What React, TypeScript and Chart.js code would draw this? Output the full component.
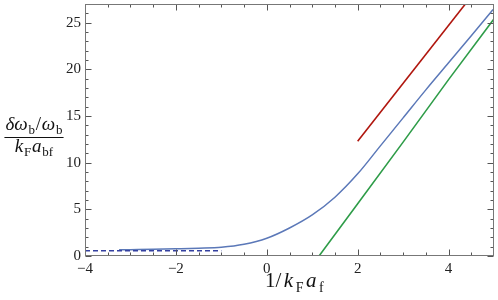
import React, { useEffect, useRef } from "react";
import { Chart, registerables } from "chart.js";

Chart.register(...registerables);

// ---- data ----
const blueX = [-3.25, -3, -2.5, -2, -1.5, -1, -0.5, 0, 0.5, 1, 1.5, 2, 2.5, 3, 3.5, 4, 4.5, 4.98];
const blueY = [0.66, 0.68, 0.72, 0.77, 0.83, 0.93, 1.25, 1.9, 3.0, 4.4, 6.3, 8.8, 11.8, 14.8, 17.8, 20.7, 23.6, 26.4];
const dashX = [-4, -1];
const dashY = [0.57, 0.57];
const redX = [2, 4.37];
const redY = [12.3, 27];
const greenX = [1.15, 2, 3, 4, 5.03];
const greenY = [0, 5.6, 12.2, 18.9, 25.6];

const xTickLabels = [-4, -2, 0, 2, 4];
const yTickLabels = [0, 5, 10, 15, 20, 25];
const xMinor = [-3.5, -3, -2.5, -1.5, -1, -0.5, 0.5, 1, 1.5, 2.5, 3, 3.5, 4.5];
const yMinor = [1, 2, 3, 4, 6, 7, 8, 9, 11, 12, 13, 14, 16, 17, 18, 19, 21, 22, 23, 24, 26];

const X_MIN = -4, X_MAX = 5, Y_MIN = 0, Y_MAX = 27;

const pts = (xs: number[], ys: number[]) => xs.map((x, i) => ({ x, y: ys[i] }));

const SERIF = '"Liberation Serif", "Times New Roman", serif';

type Part = { t: string; it?: boolean; sub?: boolean };

function drawParts(
  ctx: CanvasRenderingContext2D,
  parts: Part[],
  x: number,
  y: number,
  size: number,
  align: "left" | "center",
  gap: number
) {
  const subSize = Math.round(size * 0.68);
  const fontOf = (p: Part) => `${p.it ? "italic " : ""}${p.sub ? subSize : size}px ${SERIF}`;
  let total = 0;
  const widths = parts.map((p) => {
    ctx.font = fontOf(p);
    const w = ctx.measureText(p.t).width;
    total += w;
    return w;
  });
  total += gap * (parts.length - 1);
  let cx = align === "center" ? x - total / 2 : x;
  parts.forEach((p, i) => {
    ctx.font = fontOf(p);
    ctx.fillText(p.t, cx, p.sub ? y + size * 0.22 : y);
    cx += widths[i] + gap;
  });
  return total;
}

const framePlugin = {
  id: "frameTicks",
  afterDraw(chart: any) {
    const { ctx, chartArea: a, scales } = chart;
    const xs = scales.x, ys = scales.y;
    ctx.save();
    ctx.strokeStyle = "#555";
    ctx.lineWidth = 1;
    const tick = (x1: number, y1: number, x2: number, y2: number) => {
      ctx.beginPath();
      ctx.moveTo(x1, y1);
      ctx.lineTo(x2, y2);
      ctx.stroke();
    };
    const L = a.left + 0.5, R = a.right - 0.5, T = a.top + 0.5, B = a.bottom - 0.5;
    xTickLabels.forEach((v) => {
      const px = Math.round(xs.getPixelForValue(v)) + 0.5;
      tick(px, B, px, B - 6);
      tick(px, T, px, T + 6);
    });
    xMinor.forEach((v) => {
      const px = Math.round(xs.getPixelForValue(v)) + 0.5;
      tick(px, B, px, B - 3);
      tick(px, T, px, T + 3);
    });
    yTickLabels.forEach((v) => {
      const py = Math.round(ys.getPixelForValue(v)) + 0.5;
      tick(L, py, L + 6, py);
      tick(R, py, R - 6, py);
    });
    yMinor.forEach((v) => {
      const py = Math.round(ys.getPixelForValue(v)) + 0.5;
      tick(L, py, L + 3, py);
      tick(R, py, R - 3, py);
    });
    ctx.strokeStyle = "#777";
    ctx.strokeRect(L, T, R - L, B - T);

    // titles
    ctx.fillStyle = "#111";
    ctx.textBaseline = "alphabetic";
    ctx.textAlign = "left";
    const size = 19;
    const cx = 34;
    const w1 = drawParts(ctx, [
      { t: "δω", it: true }, { t: "b", sub: true }, { t: "/" }, { t: "ω", it: true }, { t: "b", sub: true },
    ], cx, 130, size, "center", 0.8);
    ctx.strokeStyle = "#111";
    ctx.beginPath();
    ctx.moveTo(cx - w1 / 2 - 1, 137.5);
    ctx.lineTo(cx + w1 / 2 + 1, 137.5);
    ctx.stroke();
    drawParts(ctx, [
      { t: "k", it: true }, { t: "F", sub: true }, { t: "a", it: true }, { t: "bf", sub: true },
    ], cx, 152, size, "center", 0.8);
    drawParts(ctx, [
      { t: "1/" }, { t: "k", it: true }, { t: "F", sub: true }, { t: "a", it: true }, { t: "f", sub: true },
    ], 265, 287, 21, "left", 2.5);
    ctx.restore();
  },
};

const zeroPad = (s: any) => {
  s.paddingTop = 0;
  s.paddingBottom = 0;
  s.paddingLeft = 0;
  s.paddingRight = 0;
};

export default function App() {
  const ref = useRef<HTMLCanvasElement | null>(null);
  useEffect(() => {
    if (!ref.current) return;
    const chart = new Chart(ref.current, {
      type: "line",
      data: {
        datasets: [
          { data: pts(dashX, dashY), borderColor: "#3440a0", borderWidth: 1.5, borderDash: [5, 3], pointRadius: 0 },
          { data: pts(blueX, blueY), borderColor: "#5b78b8", borderWidth: 1.5, pointRadius: 0, cubicInterpolationMode: "monotone" },
          { data: pts(redX, redY), borderColor: "#b0160e", borderWidth: 1.6, pointRadius: 0 },
          { data: pts(greenX, greenY), borderColor: "#2e9c48", borderWidth: 1.6, pointRadius: 0 },
        ],
      },
      options: {
        responsive: false,
        animation: false,
        devicePixelRatio: 1,
        layout: { padding: { top: 4, right: 4, left: 0, bottom: 0 } },
        plugins: { legend: { display: false }, tooltip: { enabled: false } },
        scales: {
          x: {
            type: "linear",
            min: X_MIN,
            max: X_MAX,
            grid: { display: false, drawTicks: false },
            border: { display: false },
            afterBuildTicks: (s: any) => { s.ticks = xTickLabels.map((v) => ({ value: v })); },
            afterFit: (s: any) => { s.height = 44; zeroPad(s); },
            ticks: {
              padding: 4,
              maxRotation: 0,
              autoSkip: false,
              color: "#222",
              font: { family: SERIF, size: 15 },
              callback: (v: any) => String(v).replace("-", "\u2212"),
            },
          },
          y: {
            type: "linear",
            min: Y_MIN,
            max: Y_MAX,
            grid: { display: false, drawTicks: false },
            border: { display: false },
            afterBuildTicks: (s: any) => { s.ticks = yTickLabels.map((v) => ({ value: v })); },
            afterFit: (s: any) => { s.width = 85; zeroPad(s); },
            ticks: {
              padding: 4,
              autoSkip: false,
              color: "#222",
              font: { family: SERIF, size: 15 },
            },
          },
        },
      } as any,
      plugins: [framePlugin],
    });
    return () => chart.destroy();
  }, []);
  return (
    <div style={{ position: "absolute", left: 0, top: 0, width: 498, height: 300, background: "#fff" }}>
      <canvas ref={ref} width={498} height={300} />
    </div>
  );
}
